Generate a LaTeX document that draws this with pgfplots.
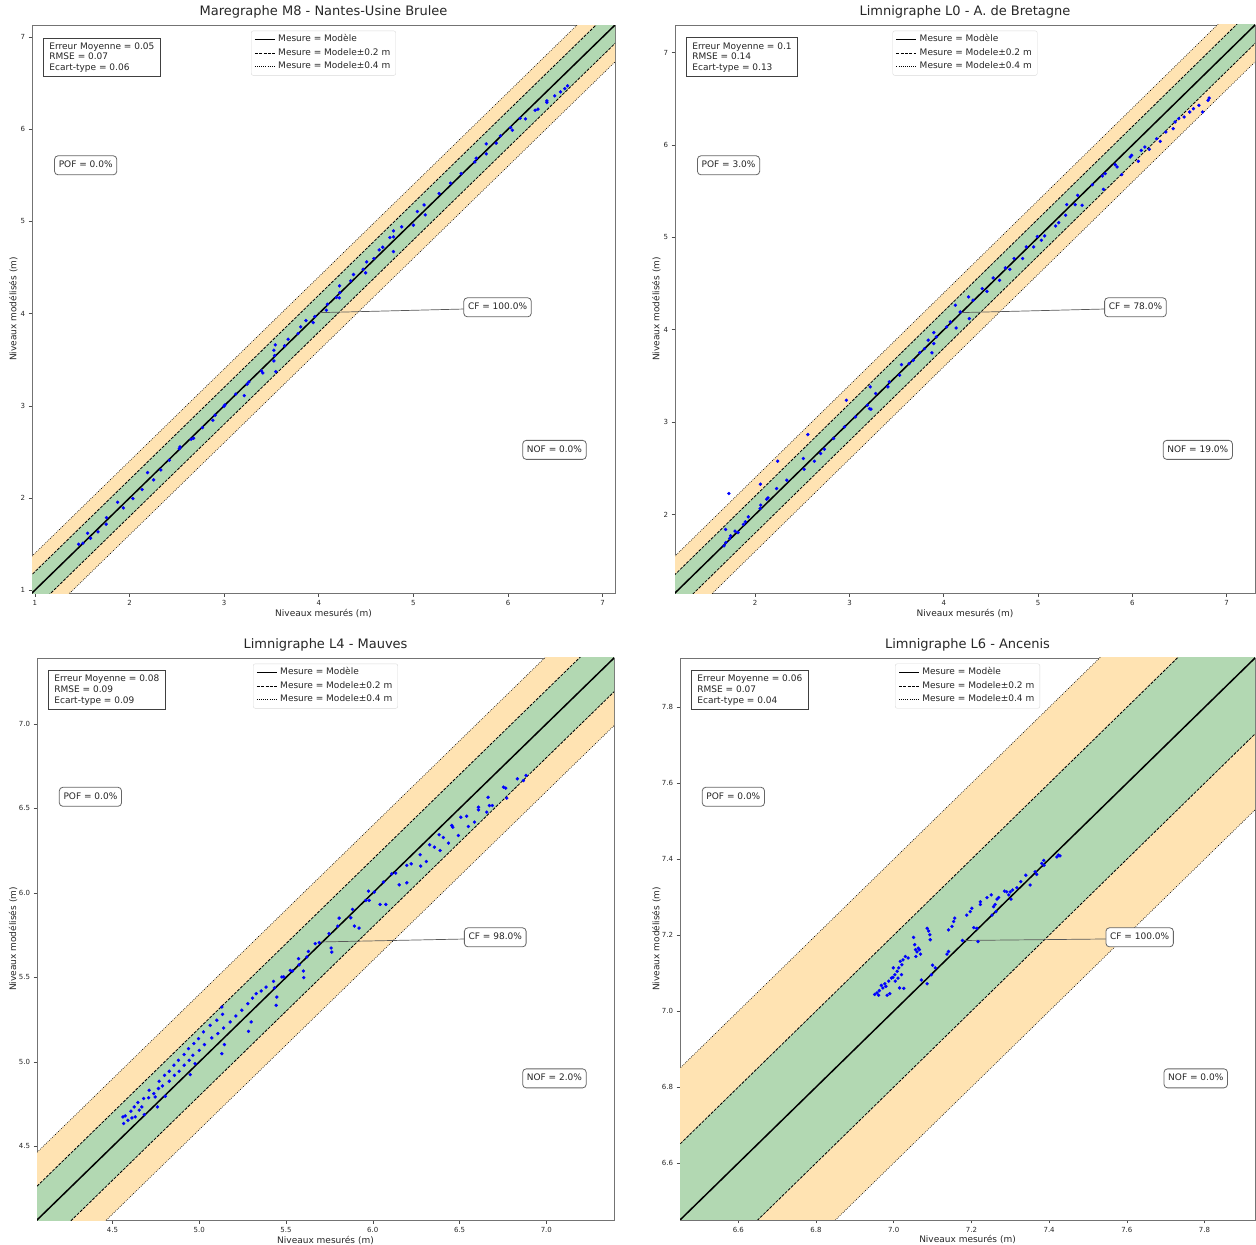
\documentclass[border=0pt]{standalone}
\usepackage{fontspec}
\setmainfont{DejaVu Sans}
\usepackage{pgfplots}
\pgfplotsset{compat=1.18}
\definecolor{bandg}{RGB}{178,216,178}
\definecolor{bando}{RGB}{255,227,178}
\definecolor{txt}{RGB}{38,38,38}
\newcommand{\titfont}{\fontsize{13}{15.6}\selectfont}
\newcommand{\labfont}{\fontsize{9}{10.8}\selectfont}
\newcommand{\tickfont}{\fontsize{7}{8.4}\selectfont}
\tikzset{
  statbox/.style={draw=black!75, line width=0.8pt, fill=white, align=left, inner xsep=6pt, inner ysep=4.5pt, font=\fontsize{9}{10.7}\selectfont, text=txt},
  rbox/.style={draw=black!60, line width=0.8pt, rounded corners=3.5pt, fill=white, inner xsep=4.2pt, inner ysep=4.5pt, text height=7.5pt, text depth=2.5pt, font=\labfont, text=txt},
}
\pgfplotsset{
  panel/.style={
    scale only axis,
    axis line style={black!55, line width=0.8pt},
    tick style={black!70, line width=0.6pt},
    tick align=outside, major tick length=3.5pt,
    xtick pos=left, ytick pos=left,
    ticklabel style={font=\tickfont, text=txt},
    /pgf/number format/assume math mode=true,
    title style={font=\titfont, text=txt, at={(axis description cs:0.5,1)}, anchor=base, yshift=3.5pt},
    xlabel={Niveaux mesurés (m)},
    ylabel={Niveaux modélisés (m)},
    xlabel style={font=\labfont, text=txt, at={(axis description cs:0.5,0)}, anchor=base, yshift=-23pt},
    ylabel style={font=\labfont, text=txt, anchor=base},
    legend style={at={(0.5,0.99)}, anchor=north, draw=black!15, fill=white, font=\labfont, text=txt, rounded corners=2pt, inner xsep=3pt, inner ysep=2pt, nodes={inner sep=2.5pt, text height=6.6pt, text depth=1.9pt}},
    legend cell align=left,
    legend image code/.code={\draw[##1] (0pt,0pt) -- (20pt,0pt);},
  },
  dec1/.style={xticklabel style={/pgf/number format/.cd, fixed, fixed zerofill, precision=1},
               yticklabel style={/pgf/number format/.cd, fixed, fixed zerofill, precision=1}},
}
% bands and reference lines
\newcommand{\bands}{%
  \addplot[fill=bando, draw=none, forget plot] coordinates {(0,0.2) (10,10.2) (10,10.4) (0,0.4)} -- cycle;
  \addplot[fill=bando, draw=none, forget plot] coordinates {(0,-0.2) (10,9.8) (10,9.6) (0,-0.4)} -- cycle;
  \addplot[fill=bandg, draw=none, forget plot] coordinates {(0,-0.2) (10,9.8) (10,10.2) (0,0.2)} -- cycle;
  \addplot[black, line width=1.5pt] coordinates {(0,0) (10,10)};
  \addlegendentry{Mesure = Modèle}
  \addplot[black, line width=0.8pt, dash pattern=on 3pt off 1.3pt] coordinates {(0,0.2) (10,10.2)};
  \addlegendentry{Mesure = Modele±0.2 m}
  \addplot[black, line width=0.8pt, dash pattern=on 3pt off 1.3pt, forget plot] coordinates {(0,-0.2) (10,9.8)};
  \addplot[black, line width=0.6pt, dash pattern=on 0.8pt off 1.3pt] coordinates {(0,0.4) (10,10.4)};
  \addlegendentry{Mesure = Modele±0.4 m}
  \addplot[black, line width=0.6pt, dash pattern=on 0.8pt off 1.3pt, forget plot] coordinates {(0,-0.4) (10,9.6)};
}
% #1 stats, #2 POF, #3 CF, #4 NOF, #5 #6 CF point
\newcommand{\annots}[6]{%
  \draw[black!65, line width=0.7pt] (axis cs:#5,#6) -- (rel axis cs:0.742,0.5);
  \node[statbox, anchor=north west] at (rel axis cs:0.019,0.978) {#1};
  \node[rbox, anchor=west] at (rel axis cs:0.038,0.753) {POF = #2\%};
  \node[rbox, anchor=west] at (rel axis cs:0.740,0.503) {CF = #3\%};
  \node[rbox, anchor=west] at (rel axis cs:0.841,0.252) {NOF = #4\%};
}
\begin{document}
\begin{tikzpicture}
\useasboundingbox (0,0) rectangle (1256pt,-1245pt);

% ---------------- Panel 1
\begin{axis}[panel, at={(32pt,-593pt)}, anchor=south west, width=583pt, height=568pt,
  xmin=0.97, xmax=7.13, ymin=0.97, ymax=7.13,
  xtick={1,2,3,4,5,6,7}, ytick={1,2,3,4,5,6,7},
  ylabel style={at={(axis description cs:-0.027,0.5)}},
  title={Maregraphe M8 - Nantes-Usine Brulee}]
\bands
\addplot[only marks, mark=*, mark size=1.5pt, blue, forget plot] coordinates {
(1.463,1.499) (1.508,1.510) (1.557,1.618) (1.588,1.564) (1.667,1.633) (1.754,1.716) (1.757,1.788)
(1.874,1.954) (1.935,1.893) (2.036,1.994) (2.134,2.092) (2.191,2.276) (2.255,2.197) (2.331,2.305)
(2.421,2.410) (2.527,2.536) (2.534,2.554) (2.651,2.638) (2.677,2.648) (2.772,2.764) (2.881,2.844)
(2.904,2.898) (2.998,2.995) (3.009,3.010) (3.122,3.126) (3.213,3.111) (3.243,3.234) (3.262,3.259)
(3.394,3.379) (3.409,3.357) (3.545,3.371) (3.526,3.487) (3.533,3.545) (3.526,3.603) (3.541,3.661)
(3.639,3.650) (3.677,3.722) (3.782,3.784) (3.809,3.856) (3.865,3.925) (3.941,3.903) (3.959,3.968)
(4.080,4.037) (4.091,4.102) (4.186,4.174) (4.216,4.171) (4.223,4.228) (4.220,4.301) (4.337,4.355)
(4.367,4.424) (4.469,4.481) (4.495,4.442) (4.506,4.561) (4.582,4.597) (4.638,4.691) (4.676,4.720)
(4.751,4.825) (4.789,4.897) (4.789,4.673) (4.789,4.832) (4.876,4.941) (5.000,4.959) (5.042,5.107)
(5.113,5.179) (5.125,5.071) (5.272,5.302) (5.392,5.414) (5.505,5.519) (5.649,5.645) (5.664,5.685)
(5.769,5.841) (5.769,5.732) (5.875,5.848) (5.920,5.927) (6.026,6.018) (6.045,5.989) (6.128,6.119)
(6.184,6.112) (6.286,6.206) (6.316,6.217) (6.410,6.307) (6.410,6.289) (6.493,6.361) (6.554,6.405)
(6.599,6.441) (6.629,6.470)
};
\annots{Erreur Moyenne = 0.05\\RMSE = 0.07\\Ecart-type = 0.06}{0.0}{100.0}{0.0}{3.99}{4.01}
\end{axis}

% ---------------- Panel 2
\begin{axis}[panel, at={(675pt,-593pt)}, anchor=south west, width=580pt, height=568pt,
  xmin=1.15, xmax=7.30, ymin=1.15, ymax=7.30,
  xtick={2,3,4,5,6,7}, ytick={2,3,4,5,6,7},
  ylabel style={at={(axis description cs:-0.027,0.5)}},
  title={Limnigraphe L0 - A. de Bretagne}]
\bands
\addplot[only marks, mark=*, mark size=1.5pt, blue, forget plot] coordinates {
(1.670,1.661) (1.690,1.697) (1.686,1.838) (1.729,1.740) (1.740,1.769) (1.721,2.227) (1.787,1.820)
(1.818,1.805) (1.876,1.892) (1.896,1.921) (1.927,1.975) (2.052,2.065) (2.059,2.101) (2.056,2.328)
(2.122,2.166) (2.137,2.180) (2.227,2.281) (2.239,2.577) (2.336,2.372) (2.519,2.491) (2.511,2.606)
(2.558,2.866) (2.628,2.577) (2.694,2.660) (2.733,2.707) (2.831,2.823) (2.947,2.949) (2.967,3.237)
(3.064,3.057) (3.189,3.183) (3.212,3.147) (3.228,3.140) (3.220,3.382) (3.278,3.310) (3.407,3.382)
(3.422,3.436) (3.531,3.508) (3.551,3.623) (3.633,3.634) (3.676,3.670) (3.746,3.753) (3.796,3.796)
(3.835,3.887) (3.874,3.750) (3.894,3.970) (3.894,3.851) (3.921,3.923) (4.030,4.031) (4.069,4.085)
(4.123,4.266) (4.131,4.020) (4.174,4.193) (4.263,4.356) (4.271,4.121) (4.310,4.320) (4.408,4.446)
(4.458,4.417) (4.524,4.561) (4.591,4.536) (4.653,4.670) (4.700,4.655) (4.746,4.771) (4.836,4.771)
(4.875,4.897) (4.953,4.897) (4.992,5.009) (5.035,4.969) (5.070,5.016) (5.186,5.124) (5.218,5.160)
(5.292,5.240) (5.303,5.355) (5.393,5.355) (5.420,5.456) (5.467,5.348) (5.576,5.571) (5.681,5.665)
(5.693,5.521) (5.712,5.690) (5.817,5.788) (5.837,5.763) (5.887,5.680) (5.977,5.871) (5.992,5.889)
(6.063,5.824) (6.094,5.943) (6.133,5.979) (6.179,5.954) (6.257,6.069) (6.296,6.040) (6.355,6.141)
(6.433,6.177) (6.452,6.250) (6.491,6.286) (6.549,6.304) (6.608,6.358) (6.647,6.394) (6.705,6.430)
(6.744,6.358) (6.802,6.484) (6.814,6.509)
};
\annots{Erreur Moyenne = 0.1\\RMSE = 0.14\\Ecart-type = 0.13}{3.0}{78.0}{19.0}{4.185}{4.186}
\end{axis}

% ---------------- Panel 3
\begin{axis}[panel, dec1, at={(37pt,-1220pt)}, anchor=south west, width=577pt, height=562pt,
  xmin=4.065, xmax=7.39, ymin=4.065, ymax=7.39,
  xtick={4.5,5.0,5.5,6.0,6.5,7.0}, ytick={4.5,5.0,5.5,6.0,6.5,7.0},
  ylabel style={at={(axis description cs:-0.036,0.5)}},
  title={Limnigraphe L4 - Mauves}]
\bands
\addplot[only marks, mark=*, mark size=1.5pt, blue, forget plot] coordinates {
(4.560,4.675) (4.573,4.681) (4.564,4.636) (4.589,4.655) (4.606,4.709) (4.612,4.669) (4.625,4.734)
(4.631,4.675) (4.646,4.760) (4.654,4.715) (4.669,4.734) (4.679,4.784) (4.683,4.689) (4.708,4.788)
(4.711,4.833) (4.738,4.813) (4.746,4.793) (4.759,4.734) (4.765,4.843) (4.769,4.886) (4.788,4.858)
(4.800,4.921) (4.804,4.797) (4.827,4.945) (4.827,4.886) (4.854,4.981) (4.857,4.921) (4.880,5.010)
(4.884,4.945) (4.913,5.044) (4.913,4.981) (4.938,5.079) (4.942,5.010) (4.948,4.925) (4.969,5.109)
(4.976,4.990) (4.963,5.040) (4.996,5.138) (5.000,5.069) (5.024,5.178) (5.030,5.103) (5.063,5.217)
(5.072,5.142) (5.101,5.247) (5.107,5.168) (5.130,5.325) (5.134,5.282) (5.140,5.201) (5.130,5.049)
(5.145,5.103) (5.178,5.237) (5.211,5.272) (5.245,5.306) (5.280,5.345) (5.284,5.181) (5.299,5.237)
(5.307,5.378) (5.328,5.404) (5.357,5.420) (5.385,5.443) (5.428,5.477) (5.433,5.438) (5.447,5.384)
(5.443,5.335) (5.476,5.503) (5.487,5.503) (5.524,5.542) (5.537,5.538) (5.572,5.611) (5.576,5.575)
(5.600,5.538) (5.602,5.499) (5.620,5.621) (5.629,5.654) (5.668,5.700) (5.691,5.706) (5.748,5.759)
(5.760,5.674) (5.764,5.650) (5.798,5.804) (5.806,5.851) (5.873,5.853) (5.883,5.903) (5.894,5.804)
(5.921,5.792) (5.960,5.956) (5.975,6.011) (5.979,5.956) (6.009,6.005) (6.042,5.932) (6.061,6.064)
(6.075,5.932) (6.109,6.113) (6.132,6.117) (6.152,6.048) (6.196,6.060) (6.196,6.163) (6.221,6.172)
(6.273,6.226) (6.276,6.159) (6.309,6.186) (6.328,6.285) (6.355,6.271) (6.382,6.344) (6.388,6.251)
(6.407,6.328) (6.436,6.295) (6.455,6.399) (6.461,6.389) (6.493,6.340) (6.507,6.448) (6.541,6.454)
(6.551,6.393) (6.586,6.419) (6.609,6.507) (6.609,6.492) (6.657,6.478) (6.664,6.566) (6.672,6.517)
(6.689,6.517) (6.753,6.626) (6.766,6.620) (6.772,6.561) (6.833,6.675) (6.868,6.665) (6.883,6.695)
};
\annots{Erreur Moyenne = 0.08\\RMSE = 0.09\\Ecart-type = 0.09}{0.0}{98.0}{2.0}{5.70}{5.71}
\end{axis}

% ---------------- Panel 4
\begin{axis}[panel, dec1, at={(680pt,-1220pt)}, anchor=south west, width=575pt, height=562pt,
  xmin=6.45, xmax=7.93, ymin=6.45, ymax=7.93,
  xtick={6.6,6.8,7.0,7.2,7.4,7.6,7.8}, ytick={6.6,6.8,7.0,7.2,7.4,7.6,7.8},
  ylabel style={at={(axis description cs:-0.036,0.5)}},
  title={Limnigraphe L6 - Ancenis}]
\bands
\addplot[only marks, mark=*, mark size=1.5pt, blue, forget plot] coordinates {
(6.951,7.044) (6.957,7.048) (6.961,7.042) (6.963,7.054) (6.968,7.068) (6.972,7.061) (6.977,7.072)
(6.980,7.065) (6.983,7.042) (6.987,7.079) (6.990,7.046) (6.994,7.087) (6.998,7.089) (6.999,7.114)
(7.003,7.096) (7.004,7.079) (7.009,7.105) (7.013,7.114) (7.011,7.087) (7.015,7.061) (7.017,7.131)
(7.020,7.096) (7.021,7.122) (7.024,7.135) (7.026,7.060) (7.030,7.144) (7.037,7.140) (7.051,7.194)
(7.054,7.175) (7.056,7.162) (7.057,7.144) (7.060,7.156) (7.063,7.166) (7.066,7.162) (7.069,7.150)
(7.071,7.082) (7.086,7.072) (7.086,7.218) (7.090,7.211) (7.093,7.201) (7.094,7.188) (7.097,7.096)
(7.100,7.121) (7.107,7.114) (7.137,7.150) (7.141,7.157) (7.141,7.214) (7.150,7.223) (7.154,7.236)
(7.157,7.245) (7.177,7.186) (7.188,7.253) (7.197,7.262) (7.201,7.271) (7.206,7.220) (7.214,7.218)
(7.217,7.183) (7.223,7.288) (7.223,7.281) (7.240,7.299) (7.251,7.306) (7.253,7.253) (7.257,7.275)
(7.261,7.281) (7.263,7.262) (7.266,7.295) (7.270,7.299) (7.285,7.316) (7.291,7.314) (7.296,7.306)
(7.300,7.314) (7.302,7.295) (7.306,7.319) (7.317,7.325) (7.327,7.341) (7.340,7.358) (7.351,7.332)
(7.364,7.367) (7.368,7.360) (7.381,7.389) (7.386,7.397) (7.387,7.384) (7.420,7.406) (7.424,7.411)
(7.428,7.409)
};
\annots{Erreur Moyenne = 0.06\\RMSE = 0.07\\Ecart-type = 0.04}{0.0}{100.0}{0.0}{7.177}{7.186}
\end{axis}
\end{tikzpicture}
\end{document}
